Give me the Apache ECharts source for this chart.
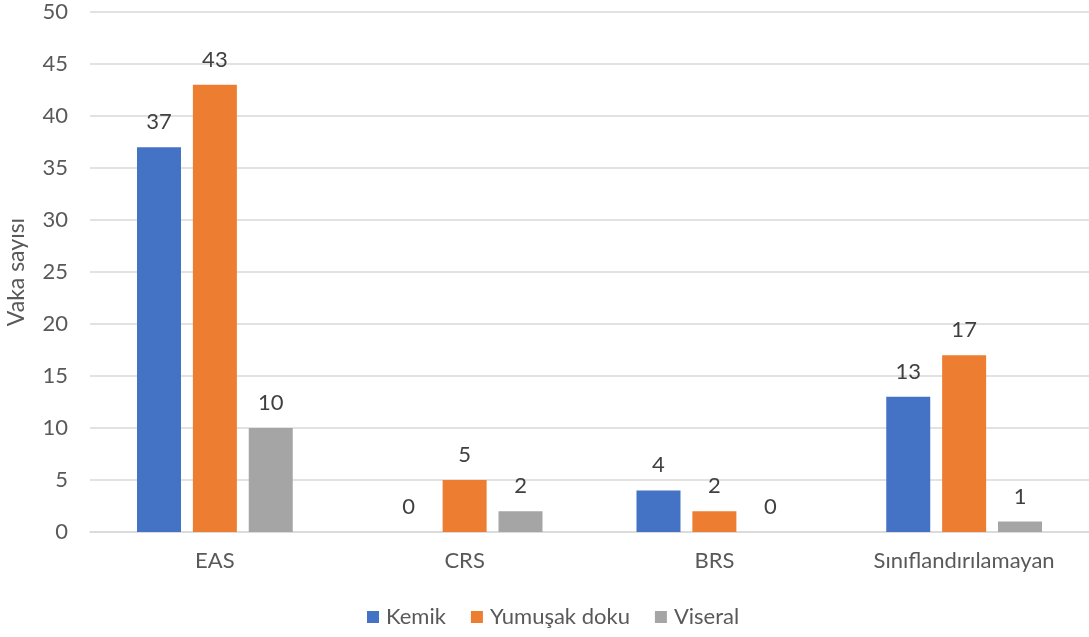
<!DOCTYPE html>
<html>
<head>
<meta charset="utf-8">
<script src="https://cdn.jsdelivr.net/npm/echarts@6/dist/echarts.min.js"></script>
<style>
  html, body { margin: 0; padding: 0; background: #fff; }
  #chart { width: 1089px; height: 637px; }
</style>
</head>
<body>
<div id="chart"></div>
<script>
const categories = ['EAS', 'CRS', 'BRS', 'Sınıflandırılamayan'];
const kemik = [37, 0, 4, 13];
const yumusakDoku = [43, 5, 2, 17];
const viseral = [10, 2, 0, 1];

const FONT = 'Lato';
const TEXT = '#595959';

function bar(name, data, color) {
  return {
    name: name,
    type: 'bar',
    data: data,
    barWidth: 44,
    barGap: '27%',
    itemStyle: { color: color },
    label: {
      show: true,
      position: 'top',
      distance: 14,
      color: '#404040',
      fontFamily: FONT,
      fontSize: 22
    }
  };
}

const chart = echarts.init(document.getElementById('chart'));
chart.setOption({
  animation: false,
  textStyle: { fontFamily: FONT },
  grid: { left: 90, right: 0, top: 12, bottom: 105, outerBoundsMode: 'none', containLabel: false },
  legend: {
    left: 362,
    bottom: 4,
    itemWidth: 12,
    itemHeight: 12,
    itemGap: 25,
    icon: 'rect',
    textStyle: { color: TEXT, fontFamily: FONT, fontSize: 22, padding: [0, 0, 0, 2] },
    data: ['Kemik', 'Yumuşak doku', 'Viseral']
  },
  xAxis: {
    type: 'category',
    data: categories,
    axisLine: { lineStyle: { color: '#d9d9d9', width: 1.5 } },
    axisTick: { show: false },
    axisLabel: { color: TEXT, fontFamily: FONT, fontSize: 22, margin: 18 }
  },
  yAxis: {
    type: 'value',
    min: 0,
    max: 50,
    interval: 5,
    name: 'Vaka sayısı',
    nameLocation: 'middle',
    nameGap: 62,
    nameTextStyle: { color: TEXT, fontFamily: FONT, fontSize: 23 },
    axisLine: { show: false },
    axisTick: { show: false },
    axisLabel: { color: TEXT, fontFamily: FONT, fontSize: 22, margin: 22 },
    splitLine: { lineStyle: { color: '#d9d9d9', width: 1.5 } }
  },
  series: [
    bar('Kemik', kemik, '#4472C4'),
    bar('Yumuşak doku', yumusakDoku, '#ED7D31'),
    bar('Viseral', viseral, '#A5A5A5')
  ]
});
</script>
</body>
</html>
